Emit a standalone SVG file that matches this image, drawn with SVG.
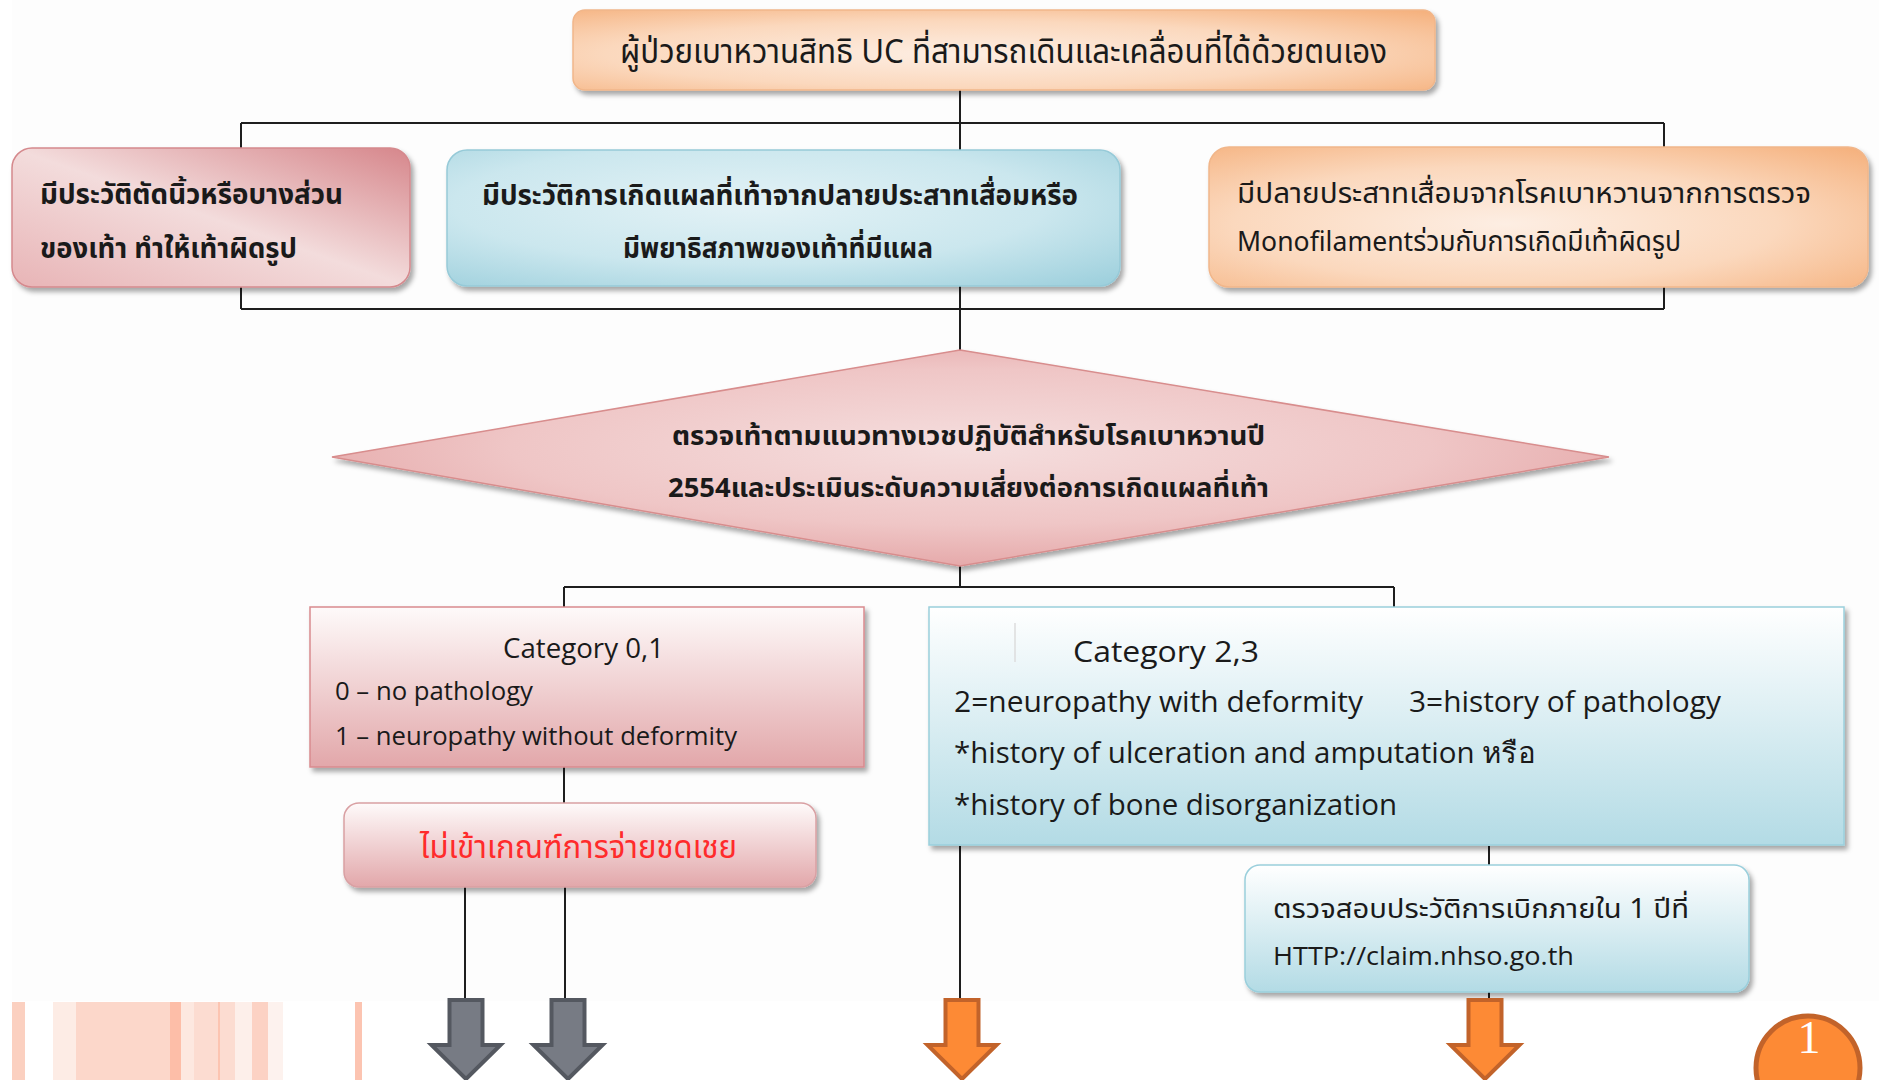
<svg xmlns="http://www.w3.org/2000/svg" width="1879" height="1080" viewBox="0 0 1879 1080">
<style>
.th{font-family:"Noto Sans Thai","Noto Sans Thai UI",Tahoma,Loma,Garuda,"Noto Sans","DejaVu Sans",sans-serif;fill:#1a1a1a}
.en{font-family:"Open Sans","Liberation Sans",sans-serif;fill:#1a1a1a}
.b{font-weight:bold}
.ln{stroke:#1e1e1e;stroke-width:2;fill:none}
.garrow{fill:#777b84;stroke:#545860;stroke-width:4;stroke-linejoin:miter}
.oarrow{fill:#fd8a35;stroke:#c2632a;stroke-width:4;stroke-linejoin:miter}
</style>
<defs>
<filter id="sh" x="-10%" y="-10%" width="120%" height="130%">
<feDropShadow dx="3" dy="4" stdDeviation="2.5" flood-color="#000" flood-opacity="0.35"/>
</filter>
<radialGradient id="gOr" cx="0.45" cy="0.55" r="0.75">
<stop offset="0" stop-color="#fdeee3"/>
<stop offset="0.55" stop-color="#fbd8bd"/>
<stop offset="1" stop-color="#f5b27f"/>
</radialGradient>
<linearGradient id="gRed" x1="1" y1="0" x2="0" y2="1">
<stop offset="0" stop-color="#d6868b"/>
<stop offset="0.5" stop-color="#f3dcdc"/>
<stop offset="1" stop-color="#e8b4b6"/>
</linearGradient>
<radialGradient id="gBlue" cx="0.45" cy="0.4" r="0.8">
<stop offset="0" stop-color="#e3f2f6"/>
<stop offset="0.55" stop-color="#cbe7ee"/>
<stop offset="1" stop-color="#9ccfdc"/>
</radialGradient>
<radialGradient id="gDia" cx="0.5" cy="0.45" r="0.6">
<stop offset="0" stop-color="#f5dede"/>
<stop offset="0.6" stop-color="#efc6c6"/>
<stop offset="1" stop-color="#e3a2a3"/>
</radialGradient>
<linearGradient id="gPinkV" x1="0" y1="0" x2="0" y2="1">
<stop offset="0" stop-color="#fefafa"/>
<stop offset="1" stop-color="#e2a7aa"/>
</linearGradient>
<linearGradient id="gBlueV" x1="0" y1="0" x2="0" y2="1">
<stop offset="0" stop-color="#ffffff"/>
<stop offset="1" stop-color="#b3dbe5"/>
</linearGradient>
</defs>

<rect x="0" y="0" width="1879" height="1080" fill="#ffffff"/>
<rect x="12" y="0" width="1867" height="1001" fill="#fdfdfd"/>

<g id="decor">
<rect x="12" y="1002" width="13" height="78" fill="#fbd0c0"/>
<rect x="53" y="1002" width="23" height="78" fill="#fdece5"/>
<rect x="76" y="1002" width="94" height="78" fill="#fcd7ca"/>
<rect x="170" y="1002" width="11" height="78" fill="#fdbea8"/>
<rect x="181" y="1002" width="13" height="78" fill="#fde8e0"/>
<rect x="194" y="1002" width="41" height="78" fill="#fcdcd1"/>
<rect x="218" y="1002" width="2" height="78" fill="#fcc4b1"/>
<rect x="235" y="1002" width="17" height="78" fill="#fdefea"/>
<rect x="252" y="1002" width="16" height="78" fill="#fcd2c4"/>
<rect x="268" y="1002" width="15" height="78" fill="#fdf2ee"/>
<rect x="355" y="1002" width="7" height="78" fill="#fcc4b1"/>
</g>

<g id="connectors">
<path class="ln" d="M960 90 V123 M241 123 H1664 M241 123 V149 M960 123 V151 M1664 123 V147"/>
<path class="ln" d="M241 286 V309 M1664 286 V309 M241 309 H1664 M960 286 V351"/>
<path class="ln" d="M960 566 V587 M564 587 H1394 M564 587 V607 M1394 587 V607"/>
<path class="ln" d="M564 767 V804"/>
<path class="ln" d="M465 887 V1000 M565 887 V1000"/>
<path class="ln" d="M960 846 V1000"/>
<path class="ln" d="M1489 846 V865 M1489 992 V1000"/>
</g>

<g id="n-top">
<rect x="573" y="10" width="862" height="80" rx="12" fill="url(#gOr)" stroke="#f1b68a" stroke-width="1.5" filter="url(#sh)"/>
<text class="th" x="620" y="63" font-size="33" textLength="767" lengthAdjust="spacingAndGlyphs">ผู้ป่วยเบาหวานสิทธิ UC ที่สามารถเดินและเคลื่อนที่ได้ด้วยตนเอง</text>
</g>

<g id="n-amputation">
<rect x="12" y="148" width="398" height="139" rx="20" fill="url(#gRed)" stroke="#d5898d" stroke-width="1.5" filter="url(#sh)"/>
<text class="th b" x="40" y="204" font-size="29" textLength="303" lengthAdjust="spacingAndGlyphs">มีประวัติตัดนิ้วหรือบางส่วน</text>
<text class="th b" x="40" y="258" font-size="29" textLength="257" lengthAdjust="spacingAndGlyphs">ของเท้า ทำให้เท้าผิดรูป</text>
</g>

<g id="n-ulcer">
<rect x="447" y="150" width="673" height="136" rx="20" fill="url(#gBlue)" stroke="#96cad8" stroke-width="1.5" filter="url(#sh)"/>
<text class="th b" x="482" y="205" font-size="28" textLength="596" lengthAdjust="spacingAndGlyphs">มีประวัติการเกิดแผลที่เท้าจากปลายประสาทเสื่อมหรือ</text>
<text class="th b" x="623" y="258" font-size="28" textLength="310" lengthAdjust="spacingAndGlyphs">มีพยาธิสภาพของเท้าที่มีแผล</text>
</g>

<g id="n-neuropathy">
<rect x="1209" y="147" width="659" height="140" rx="20" fill="url(#gOr)" stroke="#f1b68a" stroke-width="1.5" filter="url(#sh)"/>
<text class="th" x="1237" y="203" font-size="28" textLength="574" lengthAdjust="spacingAndGlyphs">มีปลายประสาทเสื่อมจากโรคเบาหวานจากการตรวจ</text>
<text class="th" x="1237" y="251" font-size="28" textLength="444" lengthAdjust="spacingAndGlyphs">Monofilamentร่วมกับการเกิดมีเท้าผิดรูป</text>
</g>

<g id="n-diamond">
<polygon points="960,350 1609,457 960,566 332,457" fill="url(#gDia)" stroke="#d88d8d" stroke-width="1.5" filter="url(#sh)"/>
<text class="th b" x="672" y="445" font-size="27" textLength="593" lengthAdjust="spacingAndGlyphs">ตรวจเท้าตามแนวทางเวชปฏิบัติสำหรับโรคเบาหวานปี</text>
<text class="th b" x="668" y="497" font-size="27" textLength="601" lengthAdjust="spacingAndGlyphs">2554และประเมินระดับความเสี่ยงต่อการเกิดแผลที่เท้า</text>
</g>

<g id="n-cat01">
<rect x="310" y="607" width="554" height="160" fill="url(#gPinkV)" stroke="#d98a8e" stroke-width="1.5" filter="url(#sh)"/>
<text class="en" x="503" y="658" font-size="27" textLength="161" lengthAdjust="spacingAndGlyphs">Category  0,1</text>
<text class="en" x="335" y="700" font-size="25" textLength="198" lengthAdjust="spacingAndGlyphs">0 – no pathology</text>
<text class="en" x="335" y="745" font-size="25" textLength="402" lengthAdjust="spacingAndGlyphs">1 – neuropathy without  deformity</text>
</g>

<g id="n-noteligible">
<rect x="344" y="803" width="472" height="84" rx="15" fill="url(#gPinkV)" stroke="#d9a0a3" stroke-width="1.5" filter="url(#sh)"/>
<text class="th" x="420" y="858" font-size="32" style="fill:#ff2b2b" textLength="317" lengthAdjust="spacingAndGlyphs">ไม่เข้าเกณฑ์การจ่ายชดเชย</text>
</g>

<g id="n-cat23">
<rect x="929" y="607" width="915" height="238" fill="url(#gBlueV)" stroke="#9acfdc" stroke-width="1.5" filter="url(#sh)"/>
<line x1="1015" y1="623" x2="1015" y2="662" stroke="#dcdcdc" stroke-width="1.5"/>
<text class="en" x="1073" y="662" font-size="30" textLength="186" lengthAdjust="spacingAndGlyphs">Category  2,3</text>
<text class="en" x="954" y="712" font-size="29" textLength="409" lengthAdjust="spacingAndGlyphs">2=neuropathy with deformity</text>
<text class="en" x="1409" y="712" font-size="29" textLength="312" lengthAdjust="spacingAndGlyphs">3=history of pathology</text>
<text class="en" x="954" y="763" font-size="29" textLength="581" lengthAdjust="spacingAndGlyphs">*history of ulceration and amputation หรือ</text>
<text class="en" x="954" y="815" font-size="29" textLength="443" lengthAdjust="spacingAndGlyphs">*history of bone disorganization</text>
</g>

<g id="n-check">
<rect x="1245" y="865" width="504" height="127" rx="15" fill="url(#gBlueV)" stroke="#9acfdc" stroke-width="1.5" filter="url(#sh)"/>
<text class="th" x="1273" y="918" font-size="27" textLength="416" lengthAdjust="spacingAndGlyphs">ตรวจสอบประวัติการเบิกภายใน 1 ปีที่</text>
<text class="en" x="1273" y="965" font-size="25" textLength="301" lengthAdjust="spacingAndGlyphs">HTTP://claim.nhso.go.th</text>
</g>

<g id="arrows">
<polygon class="garrow" points="449.5,1000 482.5,1000 482.5,1045 500.5,1045 466,1079 431.5,1045 449.5,1045"/>
<polygon class="garrow" points="551.5,1000 584.5,1000 584.5,1045 602.5,1045 568,1079 533.5,1045 551.5,1045"/>
<polygon class="oarrow" points="945.5,1000 978.5,1000 978.5,1045 996.5,1045 962,1079 927.5,1045 945.5,1045"/>
<polygon class="oarrow" points="1468.5,1000 1501.5,1000 1501.5,1045 1519.5,1045 1485,1079 1450.5,1045 1468.5,1045"/>
</g>

<g id="page-badge">
<circle cx="1808" cy="1068" r="52" fill="#fd8a35" stroke="#c2632a" stroke-width="5"/>
<text x="1809" y="1053" font-family="Liberation Serif,serif" font-size="46" fill="#ffffff" text-anchor="middle">1</text>
</g>
</svg>
